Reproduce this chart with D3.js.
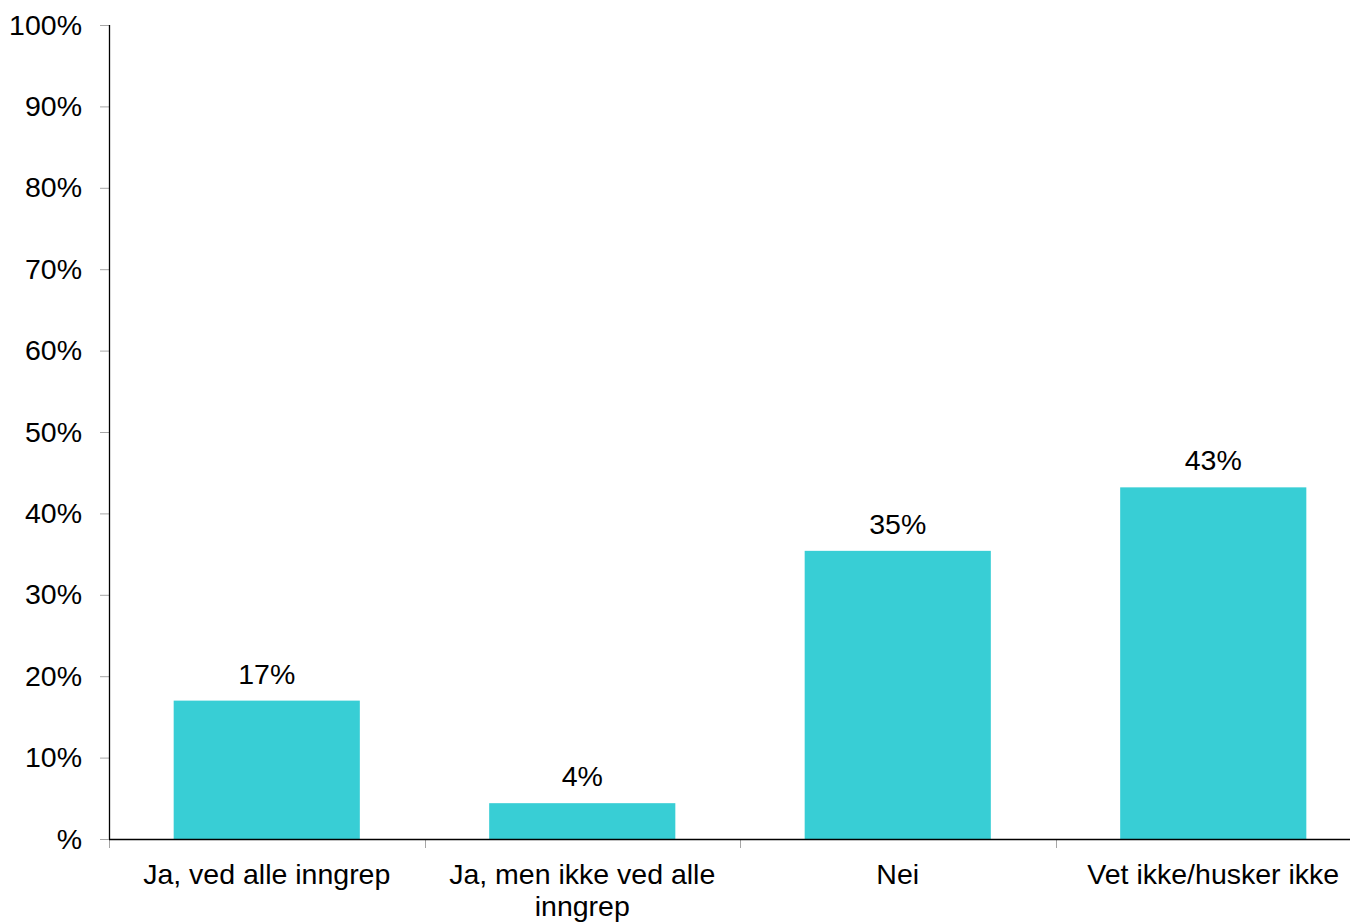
<!DOCTYPE html>
<html>
<head>
<meta charset="utf-8">
<script src="https://cdn.jsdelivr.net/npm/d3@7"></script>
<style>
  html, body { margin: 0; padding: 0; background: #fff; }
  svg { display: block; font-family: "Liberation Sans", Arial, sans-serif; }
</style>
</head>
<body>
<svg id="chart" width="1350" height="922"></svg>
<script>
// Survey answers and their shares (percent)
const categories = ["Ja, ved alle inngrep", "Ja, men ikke ved alle inngrep", "Nei", "Vet ikke/husker ikke"];
const values = [17.0, 4.4, 35.4, 43.2];
const yTicks = [0, 10, 20, 30, 40, 50, 60, 70, 80, 90, 100];
const yTickLabels = ["%", "10%", "20%", "30%", "40%", "50%", "60%", "70%", "80%", "90%", "100%"];

const svg = d3.select("#chart");
const margin = { left: 109, top: 25, right: -21, bottom: 83 };
const W = 1350, H = 922;
const x0 = margin.left, x1 = W - margin.right;
const y0 = H - margin.bottom, y1 = margin.top;

const x = d3.scaleBand().domain(categories).range([x0, x1])
  .paddingInner(0.41).paddingOuter(0.205);
const y = d3.scaleLinear().domain([0, 100]).range([y0, y1]);

const barColor = "#38ced5";
const fontSize = 28.5;

// bars
svg.append("g").selectAll("rect")
  .data(categories)
  .join("rect")
  .attr("x", d => x(d))
  .attr("width", x.bandwidth())
  .attr("y", (d, i) => y(values[i]))
  .attr("height", (d, i) => y(0) - y(values[i]))
  .attr("fill", barColor);

// value labels
svg.append("g").selectAll("text")
  .data(categories)
  .join("text")
  .attr("x", d => x(d) + x.bandwidth() / 2)
  .attr("y", (d, i) => y(values[i]) - 17)
  .attr("text-anchor", "middle")
  .attr("font-size", fontSize)
  .attr("fill", "#000")
  .text((d, i) => Math.round(values[i]) + "%");

// y axis
const yAxis = d3.axisLeft(y)
  .tickValues(yTicks)
  .tickFormat((d, i) => yTickLabels[i])
  .tickSize(9)
  .tickPadding(18);
const gy = svg.append("g").attr("transform", `translate(${x0},0)`).call(yAxis);
gy.select(".domain").remove();
gy.selectAll(".tick line").attr("stroke", "#a6a6a6").attr("stroke-width", 1);
gy.selectAll(".tick text").attr("font-size", fontSize).attr("fill", "#000")
  .attr("font-family", "Liberation Sans, Arial, sans-serif");
svg.append("line")
  .attr("x1", x0 + 0.5).attr("x2", x0 + 0.5)
  .attr("y1", y1).attr("y2", y0)
  .attr("stroke", "#000").attr("stroke-width", 1.3);

// x axis baseline and band separators
const step = x.step();
const bounds = d3.range(categories.length + 1).map(i => x0 + i * step);
svg.append("g").selectAll("line")
  .data(bounds)
  .join("line")
  .attr("x1", d => Math.round(d) + 0.5).attr("x2", d => Math.round(d) + 0.5)
  .attr("y1", y0).attr("y2", y0 + 9)
  .attr("stroke", "#a6a6a6").attr("stroke-width", 1);
svg.append("line")
  .attr("x1", x0).attr("x2", x1)
  .attr("y1", y0 + 0.5).attr("y2", y0 + 0.5)
  .attr("stroke", "#000").attr("stroke-width", 1.3);

// category labels, wrapped to the band width
const labelWidth = step * 0.9;
const measure = svg.append("text").attr("font-size", fontSize).attr("visibility", "hidden");
function wrapLines(str) {
  const words = str.split(" ");
  const lines = [];
  let cur = "";
  words.forEach(w => {
    const test = cur ? cur + " " + w : w;
    measure.text(test);
    if (measure.node().getComputedTextLength() > labelWidth && cur) {
      lines.push(cur);
      cur = w;
    } else {
      cur = test;
    }
  });
  if (cur) lines.push(cur);
  return lines;
}
const catG = svg.append("g");
categories.forEach(c => {
  const t = catG.append("text")
    .attr("x", x(c) + x.bandwidth() / 2)
    .attr("y", y0 + 45)
    .attr("text-anchor", "middle")
    .attr("font-size", fontSize)
    .attr("fill", "#000");
  wrapLines(c).forEach((line, i) => {
    t.append("tspan")
      .attr("x", x(c) + x.bandwidth() / 2)
      .attr("dy", i === 0 ? 0 : 32)
      .text(line);
  });
});
measure.remove();
</script>
</body>
</html>
